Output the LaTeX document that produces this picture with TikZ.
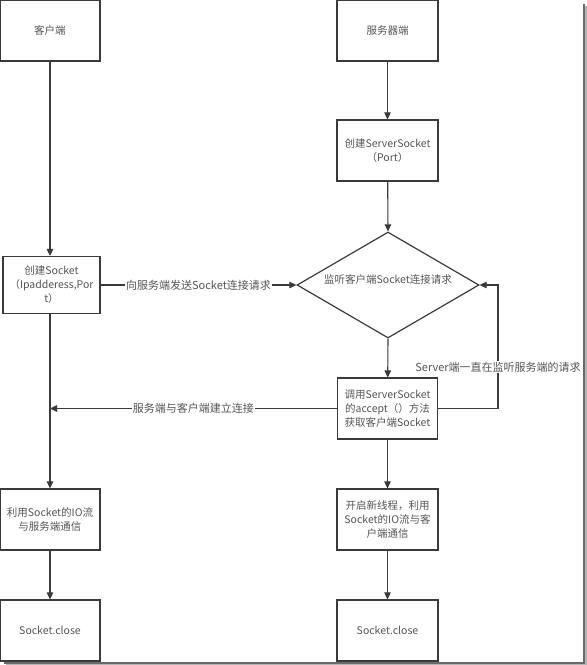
\documentclass[tikz,border=0pt]{standalone}
\usepackage{fontspec}
\setmainfont{Noto Sans CJK SC}
\usetikzlibrary{arrows.meta,shapes.geometric}
\definecolor{linec}{HTML}{3A3A3A}
\definecolor{textc}{HTML}{555555}
\definecolor{framec}{HTML}{6A6A6A}
\tikzset{
  box/.style={draw=linec, line width=1.2pt, fill=white, inner sep=2pt, align=center,
    text=textc, font=\fontsize{10.5}{14}\selectfont},
  conn/.style={draw=linec, line width=1.1pt},
  arr/.style={conn, -{Triangle[length=7pt,width=6.5pt]}},
  lab/.style={fill=white, inner sep=1pt, text=textc, font=\fontsize{11}{13}\selectfont},
}
\begin{document}
\begin{tikzpicture}[x=1pt,y=-1pt]
\useasboundingbox (0,0) rectangle (587,665);
% frame shadow
\draw[framec!50, line width=1.5pt] (586,6) -- (586,665) -- (6,665);
\draw[framec, line width=1.4pt] (584,4) -- (584,663) -- (4,663);
% nodes
\node[box, minimum width=100pt, minimum height=61pt] (c1) at (50,30.5) {客户端};
\node[box, minimum width=101pt, minimum height=61pt] (s1) at (387.5,30.5) {服务器端};
\node[box, minimum width=101pt, minimum height=61pt] (s2) at (387.5,150.5) {创建ServerSocket\\（Port）};
\node[diamond, draw=linec, line width=1.2pt, minimum width=182pt, minimum height=106pt,
  inner sep=0pt, aspect=1.717] (d) at (388,285) {};
\node[text=textc, font=\fontsize{10.5}{14}\selectfont] (dt) at (388,279) {监听客户端Socket连接请求};
\node[box, minimum width=97pt, minimum height=57pt] (c2) at (51.5,285) {创建Socket\\（Ipadderess,Por\\t）};
\node[box, minimum width=100pt, minimum height=61pt] (s3) at (387.5,408.5) {调用ServerSocket\\的accept（）方法\\获取客户端Socket};
\node[box, minimum width=100pt, minimum height=61pt] (c3) at (50,519.5) {利用Socket的IO流\\与服务端通信};
\node[box, minimum width=101pt, minimum height=61pt] (s4) at (387.5,519.5) {开启新线程，利用\\Socket的IO流与客\\户端通信};
\node[box, minimum width=100pt, minimum height=61pt] (c4) at (50,630.5) {Socket.close};
\node[box, minimum width=101pt, minimum height=61pt] (s5) at (387.5,630.5) {Socket.close};
% coordinates
\coordinate (cj) at (50,408.5);
\coordinate (lp) at (498,408.5);
% connectors
\draw[arr] (c1.south -| 50,0) -- (c2.north -| 50,0);
\draw[arr] (c2.south -| 50,0) -- (c3.north);
\draw[arr] (c3) -- (c4);
\draw[arr] (s1) -- (s2);
\draw[arr] (s2) -- (d.north);
\draw[arr] (d.south) -- (s3);
\draw[arr] (s3) -- (s4);
\draw[arr] (s4) -- (s5);
\draw[arr] (c2.east) -- node[lab] (l1) {向服务端发送Socket连接请求} (d.west);
\draw[arr] (s3.west) -- node[lab] (l2) {服务端与客户端建立连接} (cj);
\draw[arr] (s3.east) -- (lp) |- (d.east);
\node[lab] (l3) at (498,367) {Server端一直在监听服务端的请求};
\end{tikzpicture}
\end{document}
